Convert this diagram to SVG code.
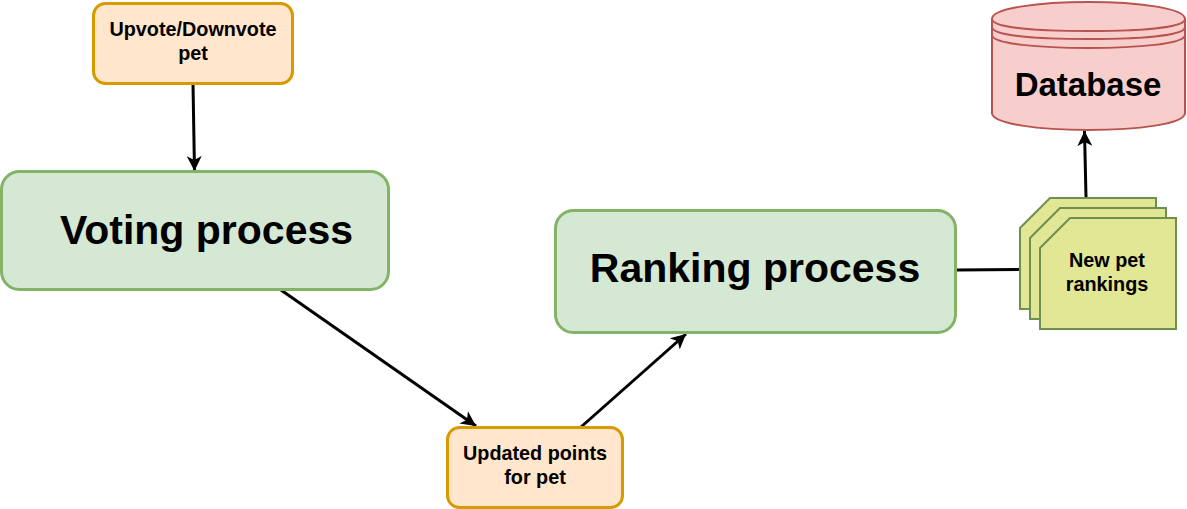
<svg xmlns="http://www.w3.org/2000/svg" width="1187" height="509" viewBox="0 0 1187 509">
<style>
text{font-family:"Liberation Sans",Arial,sans-serif;font-weight:700;fill:#000;text-anchor:middle}
.s{font-size:19.800px}
.l{font-size:41px}
.o{fill:#ffe6cc;stroke:#d79b00;stroke-width:3}
.g{fill:#d5e8d4;stroke:#82b366;stroke-width:3}
.c{fill:#e1e794;stroke:#6d8f52;stroke-width:2}
.db{fill:#f8cecc;stroke:#b85450;stroke-width:2}
.dbl{fill:none;stroke:#b85450;stroke-width:2}
.e{fill:none;stroke:#000;stroke-width:3}
</style>
<defs>
<marker id="a" markerUnits="userSpaceOnUse" markerWidth="18" markerHeight="18" refX="15" refY="8" viewBox="0 0 18 16" orient="auto"><path d="M0 0.500L15 8L0 15.500L4 8Z" fill="#000"/></marker>
</defs>
<g id="connectors">
<path class="e" d="M193 84L194.500 171" marker-end="url(#a)"/>
<path class="e" d="M281 290L476 426" marker-end="url(#a)"/>
<path class="e" d="M581 427L686 334" marker-end="url(#a)"/>
<path class="e" d="M957 270L1020 269.500"/>
<path class="e" d="M1086 197L1084.500 131" marker-end="url(#a)"/>
</g>
<g id="upvote"><rect class="o" x="93.500" y="3.500" width="199" height="80" rx="12"/><text class="s" x="193" y="36">Upvote/Downvote</text><text class="s" x="193" y="60">pet</text></g>
<g id="voting"><rect class="g" x="1.500" y="171.500" width="387" height="118" rx="18"/><text class="l" x="206.500" y="244">Voting process</text></g>
<g id="updated"><rect class="o" x="447.500" y="427.500" width="175" height="80" rx="12"/><text class="s" x="535" y="460">Updated points</text><text class="s" x="535" y="484">for pet</text></g>
<g id="ranking"><rect class="g" x="555.500" y="210.500" width="400" height="122" rx="18"/><text class="l" x="755" y="281.500">Ranking process</text></g>
<g id="rankings">
<path class="c" d="M1020 228L1050 198H1156V309H1020Z"/>
<path class="c" d="M1030 238L1060 208H1166V319H1030Z"/>
<path class="c" d="M1040 248L1070 218H1176V329H1040Z"/>
<text class="s" x="1107" y="267">New pet</text><text class="s" x="1107" y="291">rankings</text>
</g>
<g id="database">
<path class="db" d="M992 19C992 8 1040 2 1088.500 2S1185 8 1185 19V113C1185 124 1137 130 1088.500 130S992 124 992 113Z"/>
<path class="dbl" d="M992 19C992 28 1040 31 1088.500 31S1185 28 1185 19M992 27C992 36 1040 39 1088.500 39S1185 36 1185 27M992 35C992 44 1040 48 1088.500 48S1185 44 1185 35"/>
<text x="1088" y="96" style="font-size:33px">Database</text>
</g>
</svg>
